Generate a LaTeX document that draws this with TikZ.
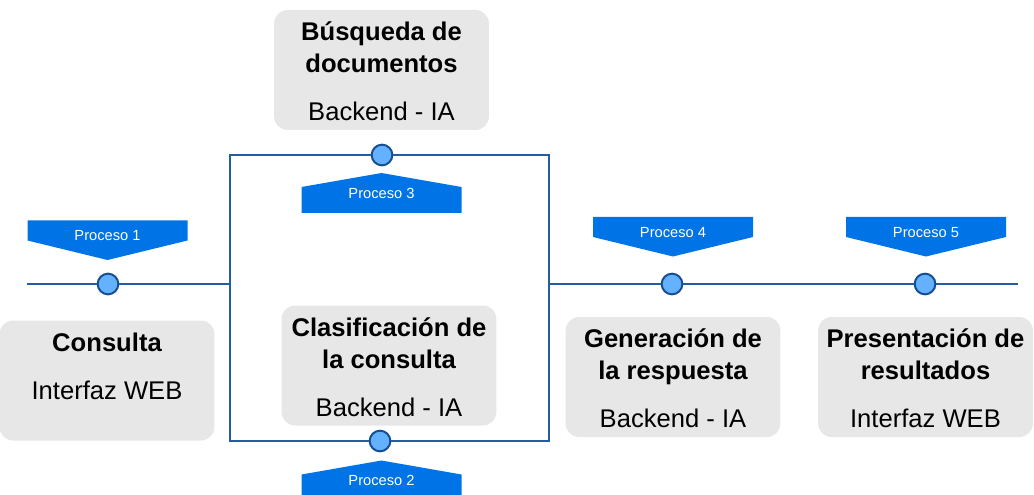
\documentclass[tikz,border=0pt]{standalone}
\usepackage{fontspec}
\setmainfont{Liberation Sans}
\definecolor{azulbanda}{RGB}{0,116,230}
\definecolor{azullinea}{RGB}{38,92,160}
\definecolor{azulborde}{RGB}{22,78,148}
\definecolor{azulpunto}{RGB}{100,178,255}
\definecolor{grisbox}{RGB}{231,231,231}
\newcommand{\etapa}[2]{\parbox[c][90pt][t]{161pt}{\centering\fontsize{19.2pt}{24pt}\selectfont
  \bfseries\rule{0pt}{23pt}#1\par\vspace{12pt}\mdseries #2}}
\tikzset{
  bandabajo/.pic={\fill[azulbanda] (-80,0) -- (80,0) -- (80,20) -- (0,39.5) -- (-80,20) -- cycle;},
  bandarriba/.pic={\fill[azulbanda] (0,0) -- (80,14) -- (80,40) -- (-80,40) -- (-80,14) -- cycle;}
}
\begin{document}
\begin{tikzpicture}[x=0.75pt,y=-0.75pt,
  etapa/.style={rectangle,rounded corners=10pt,fill=grisbox,inner sep=0pt},
  punto/.style={circle,draw=azulborde,fill=azulpunto,line width=1.5pt,minimum size=15.5pt,inner sep=0pt},
  linea/.style={draw=azullinea,line width=1.3pt},
  proceso/.style={text=white,font=\fontsize{11pt}{13pt}\selectfont,inner sep=0pt}]
\clip (0,0) rectangle (1034,495);
% cajas de cada etapa
\path (381.5,70) node(busqueda)[etapa]{\etapa{Búsqueda de\\documentos}{Backend - IA}}
(107,380.5) node(consulta)[etapa]{\etapa{Consulta}{Interfaz WEB}}
(389,365.5) node(clasificacion)[etapa]{\etapa{Clasificación de\\la consulta}{Backend - IA}}
(673,377) node(generacion)[etapa]{\etapa{Generación de\\la respuesta}{Backend - IA}}
(925.5,377) node(presentacion)[etapa]{\etapa{Presentación de\\resultados}{Interfaz WEB}};
% puntos de la linea
\path (108,284) node(p1)[punto]{}
(380,441) node(p2)[punto]{}
(382,155) node(p3)[punto]{}
(672,284) node(p4)[punto]{}
(925,284) node(p5)[punto]{};
\coordinate (inicio) at (27,284);
\coordinate (izq) at (230,284);
\coordinate (der) at (549,284);
\coordinate (fin) at (1018,284);
\coordinate (esqA) at (230,155);
\coordinate (esqB) at (549,155);
\coordinate (esqC) at (549,441);
\coordinate (esqD) at (230,441);
\draw[linea] (inicio) -- (p1) -- (izq);
\draw[linea] (p3) -- (esqB) -- (esqC) -- (p2);
\draw[linea] (p2) -- (esqD) -- (esqA) -- (p3);
\draw[linea] (der) -- (p4) -- (p5) -- (fin);
% banderas
\pic at (107.5,220.5) {bandabajo};
\pic at (673,217) {bandabajo};
\pic at (926,217) {bandabajo};
\pic at (381.5,173) {bandarriba};
\pic at (381.5,460.5) {bandarriba};
\path (107.5,236) node(b1)[proceso]{Proceso 1}
(381.5,480) node(b2)[proceso]{Proceso 2}
(381.5,193) node(b3)[proceso]{Proceso 3}
(673,233) node(b4)[proceso]{Proceso 4}
(926,233) node(b5)[proceso]{Proceso 5};
\end{tikzpicture}
\end{document}
